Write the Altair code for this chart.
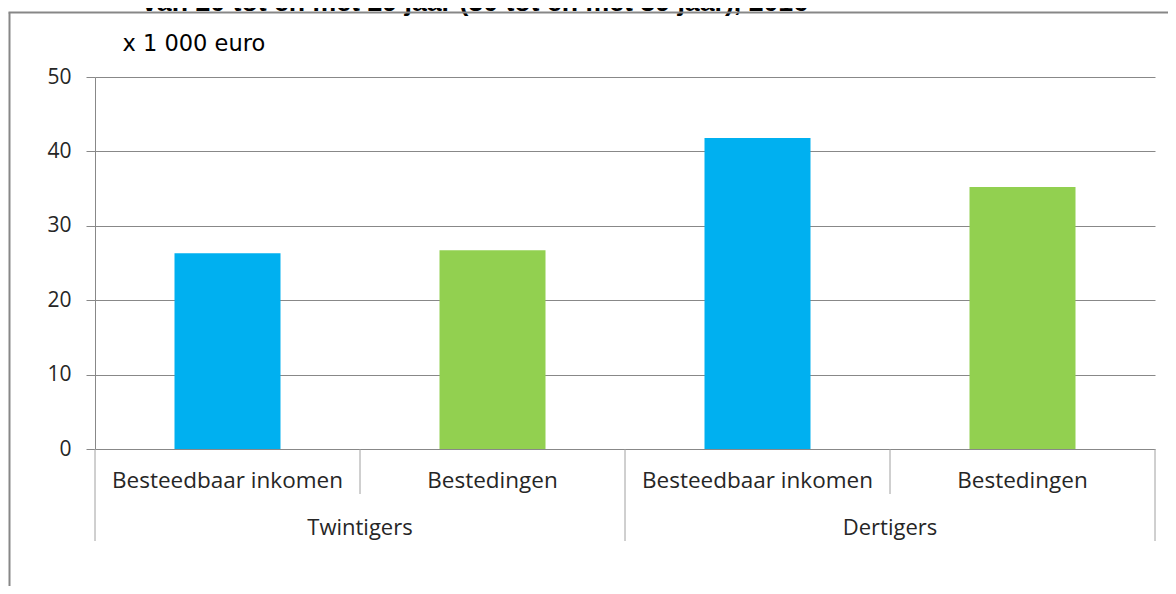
import altair as alt
import pandas as pd

# ---- data ----
groups = ["Twintigers", "Twintigers", "Dertigers", "Dertigers"]
series = ["Besteedbaar inkomen", "Bestedingen", "Besteedbaar inkomen", "Bestedingen"]
values = [26.3, 26.7, 41.8, 35.2]
keys = ["T-BI", "T-B", "D-BI", "D-B"]
series_order = ["Besteedbaar inkomen", "Bestedingen"]
series_colors = ["#00B0F0", "#92D050"]
y_ticks = [0, 10, 20, 30, 40, 50]
title_text = "van 20 tot en met 29 jaar (30 tot en met 39 jaar), 2016"
unit_text = "x 1 000 euro"

df = pd.DataFrame({"key": keys, "group": groups, "series": series, "value": values})

xs = alt.Scale(domain=keys, paddingInner=0, paddingOuter=0)
TEXT = "#262626"
GRID = "#888888"
SEP = "#a0a0a0"

bars = alt.Chart(df).mark_bar(width=alt.RelativeBandSize(0.4)).encode(
    x=alt.X("key:N", scale=xs, sort=keys, axis=None),
    y=alt.Y(
        "value:Q", scale=alt.Scale(domain=[0, 50], nice=False),
        axis=alt.Axis(
            values=y_ticks, title=unit_text, titleAngle=0, titleX=27, titleY=-27,
            titleAlign="left", titleBaseline="alphabetic", titleFont="DejaVu Sans",
            titleFontSize=22.5, titleFontWeight="normal", titleColor="#000000",
            grid=True, gridColor=GRID, gridWidth=1, domainColor=GRID, tickColor=GRID,
            tickSize=9, labelPadding=15, labelFont="Open Sans", labelFontSize=21,
            labelColor=TEXT,
        ),
    ),
    color=alt.Color("series:N", scale=alt.Scale(domain=series_order, range=series_colors), legend=None),
)

first_of_group = df.drop_duplicates("group")
second_of_group = df[~df.index.isin(first_of_group.index)]
last_row = df.tail(1)

sub_labels = alt.Chart(df).mark_text(
    align="center", baseline="alphabetic", font="Open Sans", fontSize=22.5, color=TEXT
).encode(
    x=alt.X("key:N", scale=xs, axis=None),
    y=alt.value(411),
    text="series:N",
)
short_sep = alt.Chart(second_of_group).mark_rule(color=SEP, strokeWidth=1).encode(
    x=alt.X("key:N", scale=xs, bandPosition=0, axis=None),
    y=alt.value(372), y2=alt.value(417),
)
long_sep = alt.Chart(first_of_group).mark_rule(color=SEP, strokeWidth=1).encode(
    x=alt.X("key:N", scale=xs, bandPosition=0, axis=None),
    y=alt.value(372), y2=alt.value(464),
)
end_sep = alt.Chart(last_row).mark_rule(color=SEP, strokeWidth=1).encode(
    x=alt.X("key:N", scale=xs, bandPosition=1, axis=None),
    y=alt.value(372), y2=alt.value(464),
)
group_labels = alt.Chart(first_of_group).mark_text(
    align="center", baseline="alphabetic", font="Open Sans", fontSize=22, color=TEXT
).encode(
    x=alt.X("key:N", scale=xs, bandPosition=1, axis=None),
    y=alt.value(458),
    text="group:N",
)

title = alt.Chart(pd.DataFrame({"t": [title_text]})).mark_text(
    align="left", baseline="alphabetic", font="Liberation Sans", fontWeight="bold",
    fontSize=26.7, color="#000000"
).encode(x=alt.value(47), y=alt.value(-66.5), text="t:N")

frame_left = alt.Chart(pd.DataFrame({"a": [0]})).mark_rule(color="#878787", strokeWidth=2).encode(
    x=alt.value(-85.5), y=alt.value(-64.5), y2=alt.value(509)
)
frame_top = alt.Chart(pd.DataFrame({"a": [0]})).mark_rule(color="#878787", strokeWidth=2).encode(
    x=alt.value(-86.5), x2=alt.value(1073), y=alt.value(-64.5)
)

chart = alt.layer(
    bars, sub_labels, short_sep, long_sep, end_sep, group_labels, title, frame_left, frame_top
).properties(
    width=1060, height=372,
    autosize=alt.AutoSizeParams(type="none"),
    padding={"left": 87, "top": 69, "right": 13, "bottom": 137},
    background="white",
).configure_view(stroke=None)

chart.save("out.html", embed_options={"renderer": "svg", "actions": False})
